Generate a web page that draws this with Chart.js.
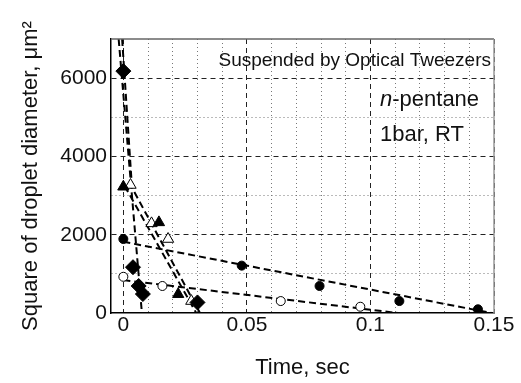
<!DOCTYPE html>
<html>
<head>
<meta charset="utf-8">
<script src="https://cdn.jsdelivr.net/npm/chart.js@4"></script>
<style>
  body { margin: 0; background: #fff; }
  #wrap { width: 521px; height: 383px; }
</style>
</head>
<body>
<div id="wrap"><canvas id="d2law"></canvas></div>
<script>
// time in sec, square of droplet diameter in um^2
var diamondT  = [0, 0.0039, 0.0062, 0.0079, 0.030];
var diamondD2 = [6180, 1170, 690, 485, 270];
var dotT  = [0, 0.0479, 0.0794, 0.1117, 0.1435];
var dotD2 = [1890, 1210, 690, 305, 95];
var ringT  = [0, 0.0158, 0.0637, 0.0959];
var ringD2 = [925, 690, 305, 160];
var triT  = [0, 0.0144, 0.0222];
var triD2 = [3225, 2315, 480];
var openTriT  = [0.0029, 0.0114, 0.0181, 0.0275];
var openTriD2 = [3270, 2290, 1890, 305];

// dashed fit lines (end points)
var fitA_T = [-0.0019, 0.0075];        var fitA_D2 = [7000, 0];
var fitB_T = [-0.0005, 0.0035, 0.031]; var fitB_D2 = [7000, 3200, 0];
var fitC_T = [0.0005, 0.0295];         var fitC_D2 = [3250, 0];
var fitDot_T = [0, 0.149];             var fitDot_D2 = [1820, 0];
var fitRing_T = [0, 0.111];            var fitRing_D2 = [840, 0];

var topNote = 'Suspended by Optical Tweezers';
var fuelNote = ['n', '-pentane'];
var condNote = '1bar, RT';

function pts(xs, ys) {
  return xs.map(function (x, i) { return { x: x, y: ys[i] }; });
}

function marker(xs, ys, style, r, fill) {
  return {
    data: pts(xs, ys), showLine: false, order: 1,
    pointStyle: style, pointRadius: r,
    backgroundColor: fill, borderColor: '#000', borderWidth: 1
  };
}

function fit(xs, ys) {
  return {
    data: pts(xs, ys), showLine: true, order: 2, pointRadius: 0,
    borderColor: '#000', borderWidth: 2, borderDash: [7, 4], fill: false
  };
}

var font = 'Liberation Sans, Arial, sans-serif';
Chart.defaults.font.family = font;
Chart.defaults.color = '#111';

var notes = {
  id: 'notes',
  afterDraw: function (chart) {
    var a = chart.chartArea, c = chart.ctx;
    c.save();
    c.lineWidth = 1.5;
    c.strokeStyle = '#666';
    c.beginPath(); c.moveTo(a.left, a.top); c.lineTo(a.right, a.top); c.stroke();
    c.strokeStyle = '#999';
    c.beginPath(); c.moveTo(a.right, a.top); c.lineTo(a.right, a.bottom); c.stroke();

    c.fillStyle = '#111';
    c.textBaseline = 'alphabetic';
    c.textAlign = 'right';
    c.font = '19px ' + font;
    c.fillText(topNote, a.right - 3, a.top + 27);

    c.textAlign = 'left';
    var x0 = a.left + 269;
    c.font = 'italic 22px ' + font;
    c.fillText(fuelNote[0], x0, a.top + 67);
    var w = c.measureText(fuelNote[0]).width;
    c.font = '22px ' + font;
    c.fillText(fuelNote[1], x0 + w, a.top + 67);
    c.fillText(condNote, x0, a.top + 102);
    c.restore();
  }
};

function xGridKind(v) {
  var k = Math.round(v / 0.005);
  if (k <= 0 && v < 0) return 'none';
  if (k % 2 !== 0) return 'none';
  return (k % 10 === 0) ? 'major' : 'minor';
}
function yGridKind(v) {
  if (v <= 0 || v >= 7000) return 'none';
  return (v % 2000 === 0) ? 'major' : 'minor';
}
function gridColor(kind) {
  if (kind === 'none') return 'rgba(0,0,0,0)';
  return kind === 'major' ? '#222' : '#777';
}
function gridDash(kind) {
  return kind === 'major' ? [5, 4] : [1, 3];
}

new Chart(document.getElementById('d2law'), {
  type: 'scatter',
  data: {
    datasets: [
      marker(diamondT, diamondD2, 'rectRot', 7.5, '#000'),
      marker(triT, triD2, 'triangle', 6.5, '#000'),
      marker(openTriT, openTriD2, 'triangle', 6.5, '#fff'),
      marker(dotT, dotD2, 'circle', 4.5, '#000'),
      marker(ringT, ringD2, 'circle', 4.5, '#fff'),
      fit(fitA_T, fitA_D2),
      fit(fitB_T, fitB_D2),
      fit(fitC_T, fitC_D2),
      fit(fitDot_T, fitDot_D2),
      fit(fitRing_T, fitRing_D2)
    ]
  },
  options: {
    responsive: true,
    maintainAspectRatio: false,
    animation: false,
    layout: { padding: { top: 39, right: 27, left: 0, bottom: 0 } },
    plugins: { legend: { display: false }, tooltip: { enabled: false } },
    scales: {
      x: {
        type: 'linear', min: -0.005, max: 0.15,
        afterFit: function (s) { s.height = 70; },
        ticks: {
          stepSize: 0.005, autoSkip: false, maxRotation: 0, padding: 0,
          font: { size: 21 }, color: '#111',
          callback: function (v) {
            var k = Math.round(v / 0.005);
            if (v < 0 || k % 10 !== 0) return '';
            return String(+v.toFixed(2));
          }
        },
        grid: {
          drawTicks: false, lineWidth: 1,
          color: function (c) { return c.tick ? gridColor(xGridKind(c.tick.value)) : '#000'; }
        },
        border: {
          color: '#000', width: 1.5,
          dash: function (c) { return c.tick ? gridDash(xGridKind(c.tick.value)) : []; }
        },
        title: { display: true, text: 'Time, sec', font: { size: 22 }, color: '#111', padding: { bottom: 2 } }
      },
      y: {
        type: 'linear', min: 0, max: 7000,
        afterFit: function (s) { s.width = 111; },
        ticks: {
          stepSize: 1000, autoSkip: false, padding: 4,
          font: { size: 21 }, color: '#111',
          callback: function (v) { return (v % 2000 === 0) ? String(v) : ''; }
        },
        grid: {
          drawTicks: false, lineWidth: 1,
          color: function (c) { return c.tick ? gridColor(yGridKind(c.tick.value)) : '#000'; }
        },
        border: {
          color: '#000', width: 1.5,
          dash: function (c) { return c.tick ? gridDash(yGridKind(c.tick.value)) : []; }
        },
        title: { display: true, text: 'Square of droplet diameter, μm²', font: { size: 22 }, color: '#111', padding: { top: 18 } }
      }
    }
  },
  plugins: [notes]
});
</script>
</body>
</html>
